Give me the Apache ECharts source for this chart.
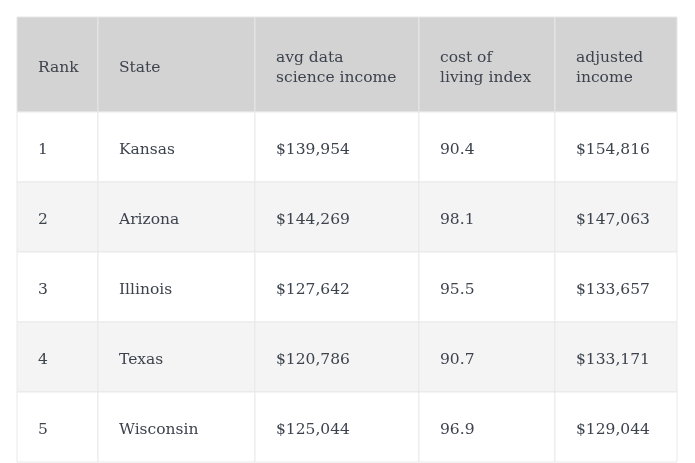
<!DOCTYPE html>
<html><head><meta charset="utf-8">
<script src="https://cdn.jsdelivr.net/npm/echarts@6/dist/echarts.min.js"></script>
<style>html,body{margin:0;padding:0;background:#fff}#c{width:695px;height:463px}</style>
</head><body><div id="c"></div>
<script>
var headers = ['Rank', 'State', 'avg data\nscience income', 'cost of\nliving index', 'adjusted\nincome'];
var ranks = [1, 2, 3, 4, 5];
var states = ['Kansas', 'Arizona', 'Illinois', 'Texas', 'Wisconsin'];
var avgIncome = [139954, 144269, 127642, 120786, 125044];
var costIndex = [90.4, 98.1, 95.5, 90.7, 96.9];
var adjustedIncome = [154816, 147063, 133657, 133171, 129044];

var colEdges = [0, 81, 238, 402, 538, 660];
var rowEdges = [0, 95, 165, 235, 305, 375, 445];

function money(v) { return '$' + v.toLocaleString('en-US'); }

var cells = [];
headers.forEach(function (h, c) { cells.push([c, 0, h]); });
for (var i = 0; i < ranks.length; i++) {
  var row = [String(ranks[i]), states[i], money(avgIncome[i]), costIndex[i].toFixed(1), money(adjustedIncome[i])];
  row.forEach(function (t, c) { cells.push([c, i + 1, t]); });
}

var FONT = '"DejaVu Serif", "Liberation Serif", serif';

var chart = echarts.init(document.getElementById('c'), null, {renderer: 'canvas'});
chart.setOption({
  animation: false,
  grid: {left: 17, right: 18, top: 17, bottom: 1},
  xAxis: {type: 'value', min: 0, max: 660, show: false},
  yAxis: {type: 'value', min: 0, max: 445, inverse: true, show: false},
  series: [{
    type: 'custom',
    coordinateSystem: 'cartesian2d',
    data: cells,
    encode: {x: 0, y: 1},
    renderItem: function (params, api) {
      var c = api.value(0), r = api.value(1);
      var text = cells[params.dataIndex][2];
      var p0 = api.coord([colEdges[c], rowEdges[r]]);
      var p1 = api.coord([colEdges[c + 1], rowEdges[r + 1]]);
      var header = r === 0;
      var fill = header ? '#d3d3d3' : (r % 2 === 0 ? '#f4f4f4' : '#ffffff');
      return {
        type: 'group',
        children: [
          {type: 'rect', shape: {x: p0[0], y: p0[1], width: p1[0] - p0[0], height: p1[1] - p0[1]},
           style: {fill: fill, stroke: header ? '#e6e6e6' : '#e9e9e9', lineWidth: 1}},
          {type: 'text', x: p0[0] + 21, y: (p0[1] + p1[1]) / 2 + (header ? 3 : 3),
           style: {text: text, fill: '#3d434d', font: '15.5px ' + FONT, lineHeight: 20,
                   align: 'left', verticalAlign: 'middle'}}
        ]
      };
    }
  }]
});
</script></body></html>
